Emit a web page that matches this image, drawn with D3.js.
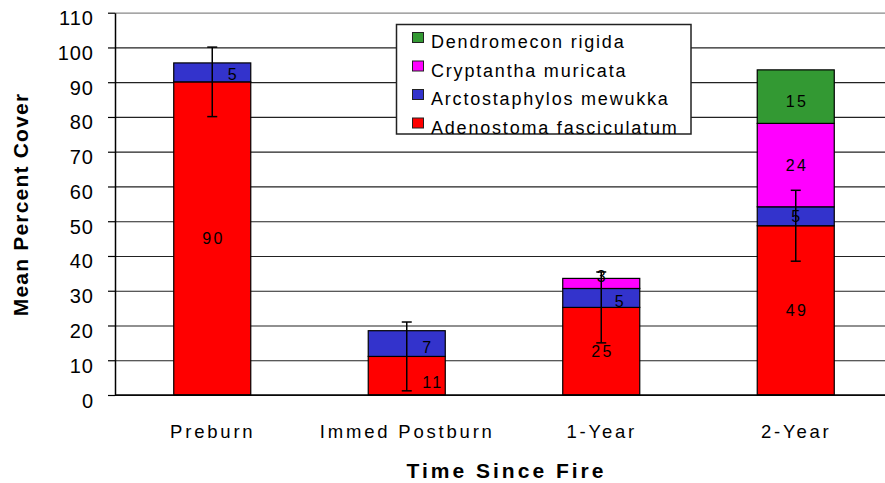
<!DOCTYPE html>
<html>
<head>
<meta charset="utf-8">
<script src="https://cdn.jsdelivr.net/npm/d3@7"></script>
<style>
  body { margin: 0; background: #fff; }
  text { font-family: "Liberation Sans", Arial, sans-serif; fill: #000; }
</style>
</head>
<body>
<div id="main"></div>
<script>
// values (mean percent cover)
const categories = ["Preburn", "Immed Postburn", "1-Year", "2-Year"];
const species = ["Adenostoma fasciculatum", "Arctostaphylos mewukka", "Cryptantha muricata", "Dendromecon rigida"];
const adenostoma = [90.1, 11.1, 25.2, 48.7];
const arctostaphylos = [5.45, 7.4, 5.45, 5.45];
const cryptantha = [0, 0, 2.9, 24.0];
const dendromecon = [0, 0, 0, 15.4];
const adenostomaErr = [10, 9.9, 10.2, 10.2];
const yTicks = [0, 10, 20, 30, 40, 50, 60, 70, 80, 90, 100, 110];

const colors = {
    "Adenostoma fasciculatum": "#ff0000",
    "Arctostaphylos mewukka": "#3333cc",
    "Cryptantha muricata": "#ff00ff",
    "Dendromecon rigida": "#339933",
};

// labels the author dragged off centre
const labelNudge = {
    "Preburn|Arctostaphylos mewukka": [20, 2],
    "Immed Postburn|Arctostaphylos mewukka": [20, 3],
    "Immed Postburn|Adenostoma fasciculatum": [25, 6],
    "1-Year|Arctostaphylos mewukka": [18, 3],
    "1-Year|Cryptantha muricata": [0, -7],
    "2-Year|Dendromecon rigida": [0, 4],
};

const ctx = { W: 885, H: 483, x0: 115, x1: 893, yTop: 12.7, yBot: 395 };

function createViz() {
    let svg = d3.select("#main").append("svg")
        .attr("width", ctx.W).attr("height", ctx.H);

    let table = categories.map(function (c, i) {
        return {
            cat: c,
            "Adenostoma fasciculatum": adenostoma[i],
            "Arctostaphylos mewukka": arctostaphylos[i],
            "Cryptantha muricata": cryptantha[i],
            "Dendromecon rigida": dendromecon[i],
            err: adenostomaErr[i],
        };
    });

    let x = d3.scaleBand().domain(categories).range([ctx.x0, ctx.x1]);
    let y = d3.scaleLinear().domain([0, 110]).range([ctx.yBot, ctx.yTop]);
    let barW = x.bandwidth() * 0.396;
    let cx = function (c) { return x(c) + x.bandwidth() / 2; };

    // gridlines
    let grid = svg.append("g")
        .attr("transform", "translate(" + ctx.x0 + ",0)")
        .call(d3.axisLeft(y).tickValues(yTicks).tickSize(-(ctx.x1 - ctx.x0)).tickFormat(""));
    grid.select(".domain").remove();
    grid.selectAll(".tick line")
        .attr("stroke", function (d) { return d === 110 ? "#888" : "#222"; })
        .attr("stroke-width", 1.2);

    // stacked bars
    let series = d3.stack().keys(species)(table);
    let layers = svg.append("g").selectAll("g")
        .data(series).enter().append("g")
        .attr("fill", function (s) { return colors[s.key]; });
    layers.selectAll("rect")
        .data(function (s) { return s.filter(function (d) { return d[1] - d[0] > 0; }); })
        .enter().append("rect")
        .attr("x", function (d) { return cx(d.data.cat) - barW / 2; })
        .attr("width", barW)
        .attr("y", function (d) { return y(d[1]); })
        .attr("height", function (d) { return y(d[0]) - y(d[1]); })
        .attr("stroke", "#000")
        .attr("stroke-width", 1.2);

    // data labels
    series.forEach(function (s) {
        s.forEach(function (d) {
            let v = d[1] - d[0];
            if (v <= 0) return;
            let n = labelNudge[d.data.cat + "|" + s.key] || [0, 0];
            svg.append("text")
                .attr("x", cx(d.data.cat) + n[0] + 1.2)
                .attr("y", (y(d[0]) + y(d[1])) / 2 + 6 + n[1])
                .attr("text-anchor", "middle")
                .attr("font-size", "16px")
                .attr("letter-spacing", "2.4px")
                .text(Math.round(v));
        });
    });

    // error bars on Adenostoma
    let eb = svg.append("g").attr("stroke", "#000").attr("stroke-width", 1.5);
    table.forEach(function (d) {
        let xc = cx(d.cat);
        let m = d["Adenostoma fasciculatum"];
        eb.append("line").attr("x1", xc).attr("x2", xc)
            .attr("y1", y(m + d.err)).attr("y2", y(m - d.err));
        [m + d.err, m - d.err].forEach(function (v) {
            eb.append("line").attr("x1", xc - 5).attr("x2", xc + 5)
                .attr("y1", y(v)).attr("y2", y(v));
        });
    });

    // y axis
    let yAxis = svg.append("g")
        .attr("transform", "translate(" + ctx.x0 + ",0)")
        .call(d3.axisLeft(y).tickValues(yTicks).tickSize(7).tickPadding(14).tickSizeOuter(0));
    yAxis.select(".domain").attr("stroke", "#000").attr("stroke-width", 1.5);
    yAxis.selectAll(".tick line").attr("stroke", "#000").attr("stroke-width", 1.2);
    yAxis.selectAll(".tick text")
        .attr("font-size", "20px")
        .attr("letter-spacing", "1px")
        .attr("font-family", "Liberation Sans, Arial, sans-serif")
        .attr("dy", "0.6em");

    // x axis line and category labels
    svg.append("line")
        .attr("x1", ctx.x0).attr("x2", ctx.x1)
        .attr("y1", y(0)).attr("y2", y(0))
        .attr("stroke", "#000").attr("stroke-width", 1.5);
    svg.append("g").selectAll("text")
        .data(categories).enter().append("text")
        .attr("x", function (c) { return cx(c) + 0.5; })
        .attr("y", 438)
        .attr("text-anchor", "middle")
        .attr("font-size", "18.5px")
        .attr("letter-spacing", "2.8px")
        .text(function (c) { return c; });

    // axis titles
    svg.append("text")
        .attr("x", (ctx.x0 + ctx.x1) / 2 + 2.5)
        .attr("y", 478)
        .attr("text-anchor", "middle")
        .attr("font-size", "21px")
        .attr("font-weight", "bold")
        .attr("letter-spacing", "3px")
        .text("Time Since Fire");
    svg.append("text")
        .attr("transform", "translate(28,204.5) rotate(-90)")
        .attr("text-anchor", "middle")
        .attr("font-size", "21px")
        .attr("font-weight", "bold")
        .attr("letter-spacing", "1.2px")
        .text("Mean Percent Cover");

    // legend
    let lg = svg.append("g");
    lg.append("rect")
        .attr("x", 396.5).attr("y", 24.5)
        .attr("width", 294.5).attr("height", 109.5)
        .attr("fill", "#fff").attr("stroke", "#222").attr("stroke-width", 1.5);
    let legendOrder = species.slice().reverse();
    legendOrder.forEach(function (s, i) {
        let base = 48 + i * 28.5;
        lg.append("rect")
            .attr("x", 412.5).attr("y", base - 15.5)
            .attr("width", 11).attr("height", 10)
            .attr("fill", colors[s]).attr("stroke", "#222").attr("stroke-width", 1);
        lg.append("text")
            .attr("x", 431).attr("y", base)
            .attr("font-size", "18px")
            .attr("letter-spacing", "1.8px")
            .text(s);
    });
}

createViz();
</script>
</body>
</html>
